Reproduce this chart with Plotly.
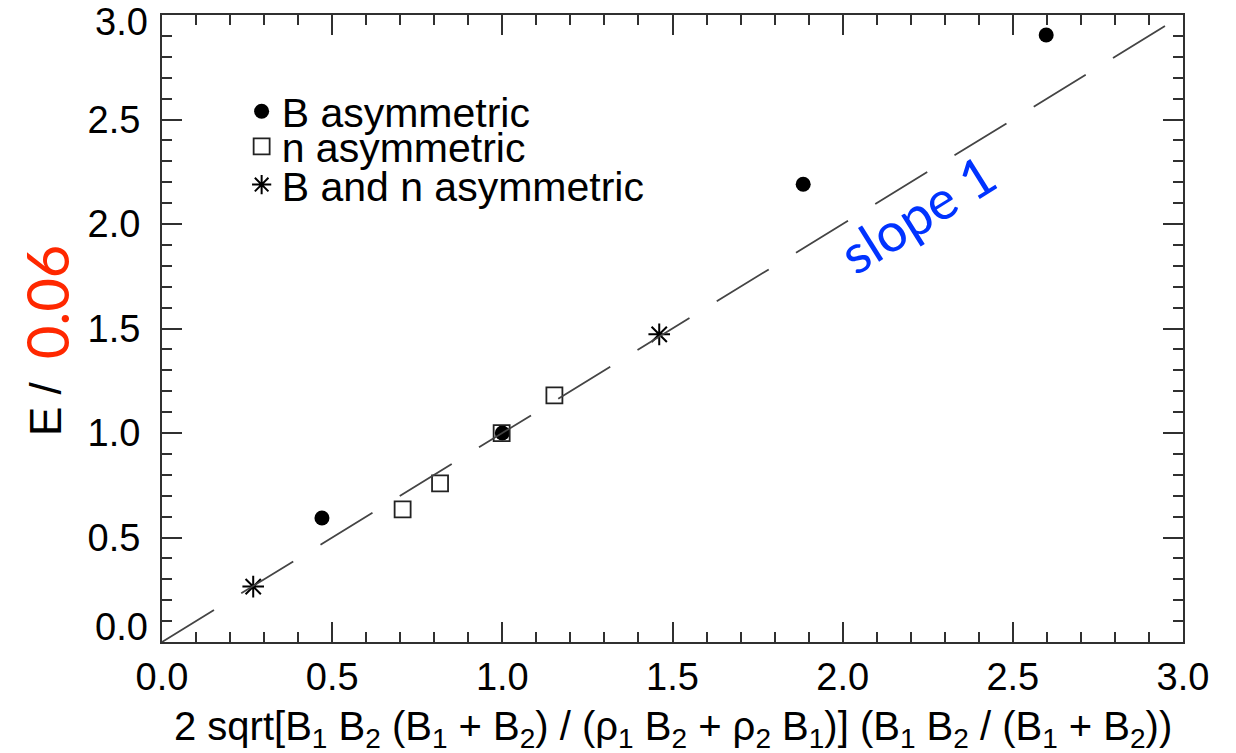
import plotly.graph_objects as go

# Measured points: scaled reconnection rate vs. asymmetric prediction
b_asym_x = [0.47, 1.00, 1.884, 2.598]
b_asym_y = [0.593, 1.00, 2.19, 2.904]

n_asym_x = [0.707, 0.817, 0.998, 1.153]
n_asym_y = [0.635, 0.759, 0.999, 1.18]

bn_asym_x = [0.268, 1.461]
bn_asym_y = [0.265, 1.472]

# Reference line of slope 1
ref_line_x = [0.0, 2.95]
ref_line_y = [0.0, 2.95]

axis_range = [0.0, 3.0]
tick_vals = [0.0, 0.5, 1.0, 1.5, 2.0, 2.5, 3.0]
tick_text = ["0.0", "0.5", "1.0", "1.5", "2.0", "2.5", "3.0"]
minor_step = 0.1

series_names = ["B asymmetric", "n asymmetric", "B and n asymmetric"]

x_title = ("2 sqrt[B<sub>1</sub> B<sub>2</sub> (B<sub>1</sub> + B<sub>2</sub>) / "
           "(ρ<sub>1</sub> B<sub>2</sub> + ρ<sub>2</sub> B<sub>1</sub>)] "
           "(B<sub>1</sub> B<sub>2</sub> / (B<sub>1</sub> + B<sub>2</sub>))")

AX = "#303030"
FONT = "Liberation Sans"
TICK_SIZE = 38

fig = go.Figure()

fig.add_trace(go.Scatter(
    x=b_asym_x, y=b_asym_y, mode="markers", name=series_names[0],
    marker=dict(symbol="circle", size=15, color="black", line=dict(width=0)),
    legend="legend",
))
fig.add_trace(go.Scatter(
    x=n_asym_x, y=n_asym_y, mode="markers", name=series_names[1],
    marker=dict(symbol="square-open", size=16, color="#222222", line=dict(width=1.8)),
    legend="legend2",
))
fig.add_trace(go.Scatter(
    x=bn_asym_x, y=bn_asym_y, mode="markers", name=series_names[2],
    marker=dict(symbol="asterisk-open", size=18, color="black", line=dict(width=2, color="black")),
    legend="legend3",
))
# dashed slope-1 line lives on the overlay axes that carry the major ticks
fig.add_trace(go.Scatter(
    x=ref_line_x, y=ref_line_y, mode="lines", showlegend=False,
    xaxis="x2", yaxis="y2",
    line=dict(color="#444444", width=1.8, dash="61px,32px"),
    hoverinfo="skip",
))

# base axes: minor ticks only
minor_axis = dict(
    range=axis_range,
    tickmode="linear", tick0=0, dtick=minor_step,
    ticks="inside", ticklen=10, tickwidth=1.5, tickcolor=AX,
    showticklabels=False,
    showline=True, linewidth=2, linecolor=AX, mirror="ticks",
    showgrid=False, zeroline=False,
)
# overlay axes: major ticks and labels
major_axis = dict(
    range=axis_range,
    ticks="inside", ticklen=20, tickwidth=2, tickcolor=AX,
    showline=True, linewidth=2, linecolor=AX, mirror="ticks",
    showgrid=False, zeroline=False,
    tickfont=dict(family=FONT, size=TICK_SIZE, color="black"),
)

legend_style = dict(
    font=dict(family=FONT, size=41, color="black"),
    bgcolor="rgba(0,0,0,0)",
    borderwidth=0,
    xanchor="left",
    yanchor="middle",
    x=0.078,
    itemsizing="trace",
)

# end labels of the y axis sit slightly inward, so they are placed as annotations
end_labels = [
    dict(text=tick_text[0], xref="paper", yref="y", x=0, y=tick_vals[0],
         xanchor="right", yanchor="middle", xshift=-12, yshift=15, showarrow=False,
         font=dict(family=FONT, size=TICK_SIZE, color="black")),
    dict(text=tick_text[-1], xref="paper", yref="y", x=0, y=tick_vals[-1],
         xanchor="right", yanchor="middle", xshift=-12, yshift=-7, showarrow=False,
         font=dict(family=FONT, size=TICK_SIZE, color="black")),
]

fig.update_layout(
    width=1236,
    height=753,
    margin=dict(l=162, r=53, t=15, b=111),
    plot_bgcolor="white",
    paper_bgcolor="white",
    showlegend=True,
    xaxis=minor_axis,
    yaxis=minor_axis,
    xaxis2=dict(**major_axis, overlaying="x", anchor="y", side="bottom",
                tickmode="array", tickvals=tick_vals, ticktext=tick_text,
                ticklabelstandoff=0),
    yaxis2=dict(**major_axis, overlaying="y", anchor="x", side="left",
                tickmode="array", tickvals=tick_vals[1:-1], ticktext=tick_text[1:-1],
                ticklabelstandoff=12),
    legend=dict(**legend_style, y=0.846),
    legend2=dict(**legend_style, y=0.790),
    legend3=dict(**legend_style, y=0.729),
    annotations=end_labels + [
        dict(text=x_title, xref="paper", yref="paper", x=0.5, y=-0.138,
             xanchor="center", yanchor="middle", showarrow=False,
             font=dict(family=FONT, size=40, color="black")),
        dict(text="E / ", xref="paper", yref="paper", x=-0.1146, y=0.381,
             xanchor="center", yanchor="middle", textangle=-90, showarrow=False,
             font=dict(family=FONT, size=44, color="black")),
        dict(text="0.06", xref="paper", yref="paper", x=-0.1136, y=0.542,
             xanchor="center", yanchor="middle", textangle=-90, showarrow=False,
             font=dict(family="Lato", size=58, color="#ff2800")),
        dict(text="slope 1", xref="x", yref="y", x=2.22, y=2.05,
             xanchor="center", yanchor="middle", textangle=-32, showarrow=False,
             font=dict(family="Lato", size=54, color="#0033ff")),
    ],
)

fig.write_html("out.html")
